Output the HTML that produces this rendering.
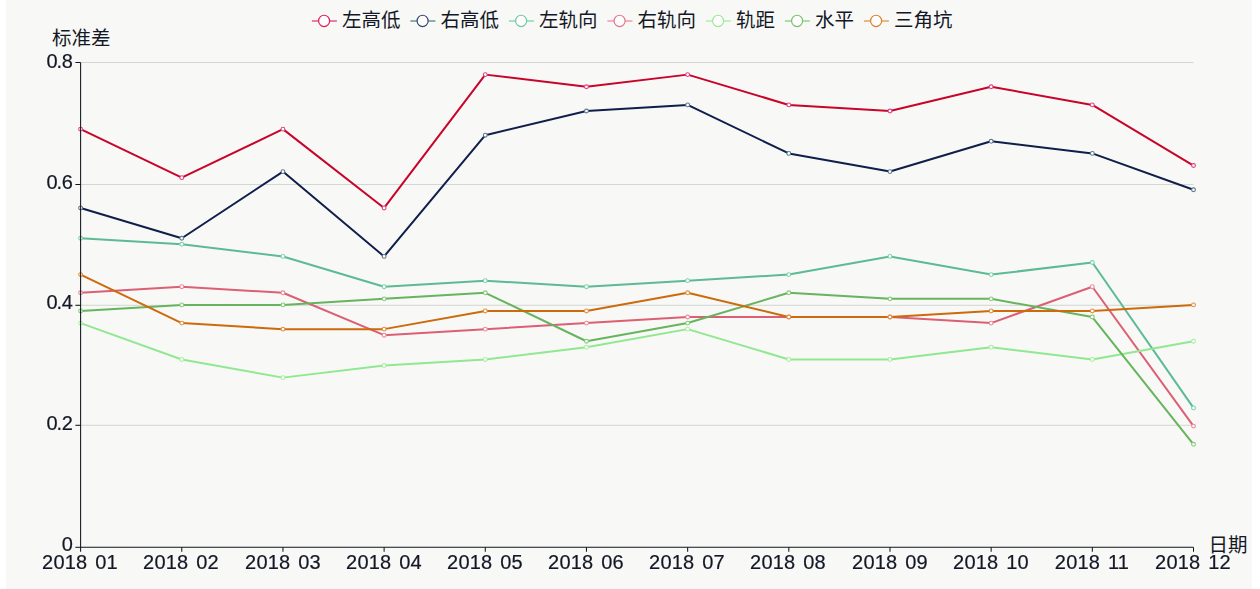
<!DOCTYPE html>
<html lang="zh-CN"><head><meta charset="utf-8"><title>标准差 折线图</title>
<style>
html,body{margin:0;padding:0;background:#fff;}
body{width:1260px;height:589px;overflow:hidden;position:relative;font-family:"Liberation Sans",sans-serif;}
#chart{position:absolute;left:6px;top:0;width:1246px;height:589px;background:#f8f8f6;}
svg{position:absolute;left:0;top:0;}
.t{position:absolute;white-space:pre;color:#141826;font-size:20px;line-height:20px;height:20px;letter-spacing:0.18px;word-spacing:2.2px;will-change:transform;-webkit-text-stroke:0.2px #141826;}
.yl{text-align:right;width:60px;transform-origin:100% 50%;}
.c{position:absolute;white-space:nowrap;overflow:hidden;color:transparent;font-size:19.5px;line-height:19.5px;height:19.5px;letter-spacing:0;}
.d{margin:0 -0.6px 0 -1.3px;}
.xl{text-align:center;width:100px;transform-origin:50% 50%;}
.lg{font-family:"Liberation Sans","Noto Sans CJK SC",sans-serif;font-size:19.5px;fill:#141826;}
</style></head><body>
<div id="chart"></div>
<svg width="1260" height="589" viewBox="0 0 1260 589">

<line x1="80.6" x2="1193.5" y1="425.30" y2="425.30" stroke="#d3d7d4" stroke-width="1"/>
<line x1="80.6" x2="1193.5" y1="305.30" y2="305.30" stroke="#d3d7d4" stroke-width="1"/>
<line x1="80.6" x2="1193.5" y1="184.50" y2="184.50" stroke="#d3d7d4" stroke-width="1"/>
<line x1="80.6" x2="1193.5" y1="62.50" y2="62.50" stroke="#d3d7d4" stroke-width="1"/>
<polyline points="80.60,129.16 181.77,177.64 282.95,129.16 384.12,207.94 485.29,74.62 586.46,86.74 687.64,74.62 788.81,104.92 889.98,110.98 991.15,86.74 1092.33,104.92 1193.50,165.52" fill="none" stroke="#c8042a" stroke-width="2" stroke-linejoin="bevel"/>
<polyline points="80.60,207.94 181.77,238.24 282.95,171.58 384.12,256.42 485.29,135.22 586.46,110.98 687.64,104.92 788.81,153.40 889.98,171.58 991.15,141.28 1092.33,153.40 1193.50,189.76" fill="none" stroke="#0f1e4a" stroke-width="2" stroke-linejoin="bevel"/>
<polyline points="80.60,238.24 181.77,244.30 282.95,256.42 384.12,286.72 485.29,280.66 586.46,286.72 687.64,280.66 788.81,274.60 889.98,256.42 991.15,274.60 1092.33,262.48 1193.50,407.92" fill="none" stroke="#5cba94" stroke-width="2" stroke-linejoin="bevel"/>
<polyline points="80.60,292.78 181.77,286.72 282.95,292.78 384.12,335.20 485.29,329.14 586.46,323.08 687.64,317.02 788.81,317.02 889.98,317.02 991.15,323.08 1092.33,286.72 1193.50,426.10" fill="none" stroke="#dc5f74" stroke-width="2" stroke-linejoin="bevel"/>
<polyline points="80.60,323.08 181.77,359.44 282.95,377.62 384.12,365.50 485.29,359.44 586.46,347.32 687.64,329.14 788.81,359.44 889.98,359.44 991.15,347.32 1092.33,359.44 1193.50,341.26" fill="none" stroke="#90e890" stroke-width="2" stroke-linejoin="bevel"/>
<polyline points="80.60,310.96 181.77,304.90 282.95,304.90 384.12,298.84 485.29,292.78 586.46,341.26 687.64,323.08 788.81,292.78 889.98,298.84 991.15,298.84 1092.33,317.02 1193.50,444.28" fill="none" stroke="#66b45e" stroke-width="2" stroke-linejoin="bevel"/>
<polyline points="80.60,274.60 181.77,323.08 282.95,329.14 384.12,329.14 485.29,310.96 586.46,310.96 687.64,292.78 788.81,317.02 889.98,317.02 991.15,310.96 1092.33,310.96 1193.50,304.90" fill="none" stroke="#cc6a0c" stroke-width="2" stroke-linejoin="bevel"/>
<circle cx="80.60" cy="129.16" r="1.9" fill="#fff" stroke="#e0408a" stroke-width="1.1"/>
<circle cx="181.77" cy="177.64" r="1.9" fill="#fff" stroke="#e0408a" stroke-width="1.1"/>
<circle cx="282.95" cy="129.16" r="1.9" fill="#fff" stroke="#e0408a" stroke-width="1.1"/>
<circle cx="384.12" cy="207.94" r="1.9" fill="#fff" stroke="#e0408a" stroke-width="1.1"/>
<circle cx="485.29" cy="74.62" r="1.9" fill="#fff" stroke="#e0408a" stroke-width="1.1"/>
<circle cx="586.46" cy="86.74" r="1.9" fill="#fff" stroke="#e0408a" stroke-width="1.1"/>
<circle cx="687.64" cy="74.62" r="1.9" fill="#fff" stroke="#e0408a" stroke-width="1.1"/>
<circle cx="788.81" cy="104.92" r="1.9" fill="#fff" stroke="#e0408a" stroke-width="1.1"/>
<circle cx="889.98" cy="110.98" r="1.9" fill="#fff" stroke="#e0408a" stroke-width="1.1"/>
<circle cx="991.15" cy="86.74" r="1.9" fill="#fff" stroke="#e0408a" stroke-width="1.1"/>
<circle cx="1092.33" cy="104.92" r="1.9" fill="#fff" stroke="#e0408a" stroke-width="1.1"/>
<circle cx="1193.50" cy="165.52" r="1.9" fill="#fff" stroke="#e0408a" stroke-width="1.1"/>
<circle cx="80.60" cy="207.94" r="1.9" fill="#fff" stroke="#5a7a90" stroke-width="1.1"/>
<circle cx="181.77" cy="238.24" r="1.9" fill="#fff" stroke="#5a7a90" stroke-width="1.1"/>
<circle cx="282.95" cy="171.58" r="1.9" fill="#fff" stroke="#5a7a90" stroke-width="1.1"/>
<circle cx="384.12" cy="256.42" r="1.9" fill="#fff" stroke="#5a7a90" stroke-width="1.1"/>
<circle cx="485.29" cy="135.22" r="1.9" fill="#fff" stroke="#5a7a90" stroke-width="1.1"/>
<circle cx="586.46" cy="110.98" r="1.9" fill="#fff" stroke="#5a7a90" stroke-width="1.1"/>
<circle cx="687.64" cy="104.92" r="1.9" fill="#fff" stroke="#5a7a90" stroke-width="1.1"/>
<circle cx="788.81" cy="153.40" r="1.9" fill="#fff" stroke="#5a7a90" stroke-width="1.1"/>
<circle cx="889.98" cy="171.58" r="1.9" fill="#fff" stroke="#5a7a90" stroke-width="1.1"/>
<circle cx="991.15" cy="141.28" r="1.9" fill="#fff" stroke="#5a7a90" stroke-width="1.1"/>
<circle cx="1092.33" cy="153.40" r="1.9" fill="#fff" stroke="#5a7a90" stroke-width="1.1"/>
<circle cx="1193.50" cy="189.76" r="1.9" fill="#fff" stroke="#5a7a90" stroke-width="1.1"/>
<circle cx="80.60" cy="238.24" r="1.9" fill="#fff" stroke="#7cd4a8" stroke-width="1.1"/>
<circle cx="181.77" cy="244.30" r="1.9" fill="#fff" stroke="#7cd4a8" stroke-width="1.1"/>
<circle cx="282.95" cy="256.42" r="1.9" fill="#fff" stroke="#7cd4a8" stroke-width="1.1"/>
<circle cx="384.12" cy="286.72" r="1.9" fill="#fff" stroke="#7cd4a8" stroke-width="1.1"/>
<circle cx="485.29" cy="280.66" r="1.9" fill="#fff" stroke="#7cd4a8" stroke-width="1.1"/>
<circle cx="586.46" cy="286.72" r="1.9" fill="#fff" stroke="#7cd4a8" stroke-width="1.1"/>
<circle cx="687.64" cy="280.66" r="1.9" fill="#fff" stroke="#7cd4a8" stroke-width="1.1"/>
<circle cx="788.81" cy="274.60" r="1.9" fill="#fff" stroke="#7cd4a8" stroke-width="1.1"/>
<circle cx="889.98" cy="256.42" r="1.9" fill="#fff" stroke="#7cd4a8" stroke-width="1.1"/>
<circle cx="991.15" cy="274.60" r="1.9" fill="#fff" stroke="#7cd4a8" stroke-width="1.1"/>
<circle cx="1092.33" cy="262.48" r="1.9" fill="#fff" stroke="#7cd4a8" stroke-width="1.1"/>
<circle cx="1193.50" cy="407.92" r="1.9" fill="#fff" stroke="#7cd4a8" stroke-width="1.1"/>
<circle cx="80.60" cy="292.78" r="1.9" fill="#fff" stroke="#ec8898" stroke-width="1.1"/>
<circle cx="181.77" cy="286.72" r="1.9" fill="#fff" stroke="#ec8898" stroke-width="1.1"/>
<circle cx="282.95" cy="292.78" r="1.9" fill="#fff" stroke="#ec8898" stroke-width="1.1"/>
<circle cx="384.12" cy="335.20" r="1.9" fill="#fff" stroke="#ec8898" stroke-width="1.1"/>
<circle cx="485.29" cy="329.14" r="1.9" fill="#fff" stroke="#ec8898" stroke-width="1.1"/>
<circle cx="586.46" cy="323.08" r="1.9" fill="#fff" stroke="#ec8898" stroke-width="1.1"/>
<circle cx="687.64" cy="317.02" r="1.9" fill="#fff" stroke="#ec8898" stroke-width="1.1"/>
<circle cx="788.81" cy="317.02" r="1.9" fill="#fff" stroke="#ec8898" stroke-width="1.1"/>
<circle cx="889.98" cy="317.02" r="1.9" fill="#fff" stroke="#ec8898" stroke-width="1.1"/>
<circle cx="991.15" cy="323.08" r="1.9" fill="#fff" stroke="#ec8898" stroke-width="1.1"/>
<circle cx="1092.33" cy="286.72" r="1.9" fill="#fff" stroke="#ec8898" stroke-width="1.1"/>
<circle cx="1193.50" cy="426.10" r="1.9" fill="#fff" stroke="#ec8898" stroke-width="1.1"/>
<circle cx="80.60" cy="323.08" r="1.9" fill="#fff" stroke="#a8f0a0" stroke-width="1.1"/>
<circle cx="181.77" cy="359.44" r="1.9" fill="#fff" stroke="#a8f0a0" stroke-width="1.1"/>
<circle cx="282.95" cy="377.62" r="1.9" fill="#fff" stroke="#a8f0a0" stroke-width="1.1"/>
<circle cx="384.12" cy="365.50" r="1.9" fill="#fff" stroke="#a8f0a0" stroke-width="1.1"/>
<circle cx="485.29" cy="359.44" r="1.9" fill="#fff" stroke="#a8f0a0" stroke-width="1.1"/>
<circle cx="586.46" cy="347.32" r="1.9" fill="#fff" stroke="#a8f0a0" stroke-width="1.1"/>
<circle cx="687.64" cy="329.14" r="1.9" fill="#fff" stroke="#a8f0a0" stroke-width="1.1"/>
<circle cx="788.81" cy="359.44" r="1.9" fill="#fff" stroke="#a8f0a0" stroke-width="1.1"/>
<circle cx="889.98" cy="359.44" r="1.9" fill="#fff" stroke="#a8f0a0" stroke-width="1.1"/>
<circle cx="991.15" cy="347.32" r="1.9" fill="#fff" stroke="#a8f0a0" stroke-width="1.1"/>
<circle cx="1092.33" cy="359.44" r="1.9" fill="#fff" stroke="#a8f0a0" stroke-width="1.1"/>
<circle cx="1193.50" cy="341.26" r="1.9" fill="#fff" stroke="#a8f0a0" stroke-width="1.1"/>
<circle cx="80.60" cy="310.96" r="1.9" fill="#fff" stroke="#84cc78" stroke-width="1.1"/>
<circle cx="181.77" cy="304.90" r="1.9" fill="#fff" stroke="#84cc78" stroke-width="1.1"/>
<circle cx="282.95" cy="304.90" r="1.9" fill="#fff" stroke="#84cc78" stroke-width="1.1"/>
<circle cx="384.12" cy="298.84" r="1.9" fill="#fff" stroke="#84cc78" stroke-width="1.1"/>
<circle cx="485.29" cy="292.78" r="1.9" fill="#fff" stroke="#84cc78" stroke-width="1.1"/>
<circle cx="586.46" cy="341.26" r="1.9" fill="#fff" stroke="#84cc78" stroke-width="1.1"/>
<circle cx="687.64" cy="323.08" r="1.9" fill="#fff" stroke="#84cc78" stroke-width="1.1"/>
<circle cx="788.81" cy="292.78" r="1.9" fill="#fff" stroke="#84cc78" stroke-width="1.1"/>
<circle cx="889.98" cy="298.84" r="1.9" fill="#fff" stroke="#84cc78" stroke-width="1.1"/>
<circle cx="991.15" cy="298.84" r="1.9" fill="#fff" stroke="#84cc78" stroke-width="1.1"/>
<circle cx="1092.33" cy="317.02" r="1.9" fill="#fff" stroke="#84cc78" stroke-width="1.1"/>
<circle cx="1193.50" cy="444.28" r="1.9" fill="#fff" stroke="#84cc78" stroke-width="1.1"/>
<circle cx="80.60" cy="274.60" r="1.9" fill="#fff" stroke="#e0903c" stroke-width="1.1"/>
<circle cx="181.77" cy="323.08" r="1.9" fill="#fff" stroke="#e0903c" stroke-width="1.1"/>
<circle cx="282.95" cy="329.14" r="1.9" fill="#fff" stroke="#e0903c" stroke-width="1.1"/>
<circle cx="384.12" cy="329.14" r="1.9" fill="#fff" stroke="#e0903c" stroke-width="1.1"/>
<circle cx="485.29" cy="310.96" r="1.9" fill="#fff" stroke="#e0903c" stroke-width="1.1"/>
<circle cx="586.46" cy="310.96" r="1.9" fill="#fff" stroke="#e0903c" stroke-width="1.1"/>
<circle cx="687.64" cy="292.78" r="1.9" fill="#fff" stroke="#e0903c" stroke-width="1.1"/>
<circle cx="788.81" cy="317.02" r="1.9" fill="#fff" stroke="#e0903c" stroke-width="1.1"/>
<circle cx="889.98" cy="317.02" r="1.9" fill="#fff" stroke="#e0903c" stroke-width="1.1"/>
<circle cx="991.15" cy="310.96" r="1.9" fill="#fff" stroke="#e0903c" stroke-width="1.1"/>
<circle cx="1092.33" cy="310.96" r="1.9" fill="#fff" stroke="#e0903c" stroke-width="1.1"/>
<circle cx="1193.50" cy="304.90" r="1.9" fill="#fff" stroke="#e0903c" stroke-width="1.1"/>
<line x1="80.6" x2="80.6" y1="62.5" y2="547.8" stroke="#12151e" stroke-width="1.05"/>
<line x1="80.6" x2="1193.5" y1="547.3" y2="547.3" stroke="#12151e" stroke-width="1.05"/>
<line x1="75.39999999999999" x2="80.6" y1="547.30" y2="547.30" stroke="#12151e" stroke-width="1.05"/>
<line x1="75.39999999999999" x2="80.6" y1="425.30" y2="425.30" stroke="#12151e" stroke-width="1.05"/>
<line x1="75.39999999999999" x2="80.6" y1="305.30" y2="305.30" stroke="#12151e" stroke-width="1.05"/>
<line x1="75.39999999999999" x2="80.6" y1="184.50" y2="184.50" stroke="#12151e" stroke-width="1.05"/>
<line x1="75.39999999999999" x2="80.6" y1="62.50" y2="62.50" stroke="#12151e" stroke-width="1.05"/>
<line x1="80.60" x2="80.60" y1="547.3" y2="551.8" stroke="#12151e" stroke-width="1.05"/>
<line x1="181.77" x2="181.77" y1="547.3" y2="551.8" stroke="#12151e" stroke-width="1.05"/>
<line x1="282.95" x2="282.95" y1="547.3" y2="551.8" stroke="#12151e" stroke-width="1.05"/>
<line x1="384.12" x2="384.12" y1="547.3" y2="551.8" stroke="#12151e" stroke-width="1.05"/>
<line x1="485.29" x2="485.29" y1="547.3" y2="551.8" stroke="#12151e" stroke-width="1.05"/>
<line x1="586.46" x2="586.46" y1="547.3" y2="551.8" stroke="#12151e" stroke-width="1.05"/>
<line x1="687.64" x2="687.64" y1="547.3" y2="551.8" stroke="#12151e" stroke-width="1.05"/>
<line x1="788.81" x2="788.81" y1="547.3" y2="551.8" stroke="#12151e" stroke-width="1.05"/>
<line x1="889.98" x2="889.98" y1="547.3" y2="551.8" stroke="#12151e" stroke-width="1.05"/>
<line x1="991.15" x2="991.15" y1="547.3" y2="551.8" stroke="#12151e" stroke-width="1.05"/>
<line x1="1092.33" x2="1092.33" y1="547.3" y2="551.8" stroke="#12151e" stroke-width="1.05"/>
<line x1="1193.50" x2="1193.50" y1="547.3" y2="551.8" stroke="#12151e" stroke-width="1.05"/>
<line x1="311.90" x2="336.90" y1="21.0" y2="21.0" stroke="#e65c9e" stroke-width="1.6"/>
<ellipse cx="324.10" cy="20.9" rx="5.5" ry="5.7" fill="#fefcfc" stroke="#dc1e5a" stroke-width="1.15"/>
<text class="lg" x="341.9" y="26.83">左高低</text>
<line x1="410.40" x2="435.40" y1="21.0" y2="21.0" stroke="#7098a2" stroke-width="1.6"/>
<ellipse cx="422.60" cy="20.9" rx="5.5" ry="5.7" fill="#fefcfc" stroke="#2c4870" stroke-width="1.15"/>
<text class="lg" x="440.4" y="26.83">右高低</text>
<line x1="508.90" x2="533.90" y1="21.0" y2="21.0" stroke="#90dcb4" stroke-width="1.6"/>
<ellipse cx="521.10" cy="20.9" rx="5.5" ry="5.7" fill="#fefcfc" stroke="#6ccb9c" stroke-width="1.15"/>
<text class="lg" x="538.9" y="26.83">左轨向</text>
<line x1="607.40" x2="632.40" y1="21.0" y2="21.0" stroke="#f0a0ac" stroke-width="1.6"/>
<ellipse cx="619.60" cy="20.9" rx="5.5" ry="5.7" fill="#fefcfc" stroke="#e27488" stroke-width="1.15"/>
<text class="lg" x="637.4" y="26.83">右轨向</text>
<line x1="705.90" x2="730.90" y1="21.0" y2="21.0" stroke="#b4f2b0" stroke-width="1.6"/>
<ellipse cx="718.10" cy="20.9" rx="5.5" ry="5.7" fill="#fefcfc" stroke="#98ea98" stroke-width="1.15"/>
<text class="lg" x="735.9" y="26.83">轨距</text>
<line x1="784.90" x2="809.90" y1="21.0" y2="21.0" stroke="#98d890" stroke-width="1.6"/>
<ellipse cx="797.10" cy="20.9" rx="5.5" ry="5.7" fill="#fefcfc" stroke="#74c06c" stroke-width="1.15"/>
<text class="lg" x="814.9" y="26.83">水平</text>
<line x1="863.90" x2="888.90" y1="21.0" y2="21.0" stroke="#e8a860" stroke-width="1.6"/>
<ellipse cx="876.10" cy="20.9" rx="5.5" ry="5.7" fill="#fefcfc" stroke="#d8802c" stroke-width="1.15"/>
<text class="lg" x="893.9" y="26.83">三角坑</text>
<text class="lg" x="51.9" y="44.59">标准差</text>
<text class="lg" x="1208.4" y="552.01">日期</text>
</svg>

<div class="t yl" style="left:12.5px;top:534.35px">0</div>
<div class="t yl" style="left:12.5px;top:413.35px">0<span class="d">.</span>2</div>
<div class="t yl" style="left:12.5px;top:292.45px">0<span class="d">.</span>4</div>
<div class="t yl" style="left:12.5px;top:171.55px">0<span class="d">.</span>6</div>
<div class="t yl" style="left:12.5px;top:50.65px">0<span class="d">.</span>8</div>
<div class="t xl" style="left:30.2px;top:551.85px">2018 01</div>
<div class="t xl" style="left:131.4px;top:551.85px">2018 02</div>
<div class="t xl" style="left:232.5px;top:551.85px">2018 03</div>
<div class="t xl" style="left:333.7px;top:551.85px">2018 04</div>
<div class="t xl" style="left:434.9px;top:551.85px">2018 05</div>
<div class="t xl" style="left:536.1px;top:551.85px">2018 06</div>
<div class="t xl" style="left:637.2px;top:551.85px">2018 07</div>
<div class="t xl" style="left:738.4px;top:551.85px">2018 08</div>
<div class="t xl" style="left:839.6px;top:551.85px">2018 09</div>
<div class="t xl" style="left:940.8px;top:551.85px">2018 10</div>
<div class="t xl" style="left:1041.9px;top:551.85px">2018 11</div>
<div class="t xl" style="left:1143.1px;top:551.85px">2018 12</div>
<div class="c" style="left:341.9px;top:9.3px;width:58.5px">左高低</div>
<div class="c" style="left:440.4px;top:9.3px;width:58.5px">右高低</div>
<div class="c" style="left:538.9px;top:9.3px;width:58.5px">左轨向</div>
<div class="c" style="left:637.4px;top:9.3px;width:58.5px">右轨向</div>
<div class="c" style="left:735.9px;top:9.3px;width:39.0px">轨距</div>
<div class="c" style="left:814.9px;top:9.3px;width:39.0px">水平</div>
<div class="c" style="left:893.9px;top:9.3px;width:58.5px">三角坑</div>
<div class="c" style="left:51.9px;top:27.2px;width:58.5px">标准差</div>
<div class="c" style="left:1208.4px;top:535.0px;width:39.0px">日期</div>
</body></html>
